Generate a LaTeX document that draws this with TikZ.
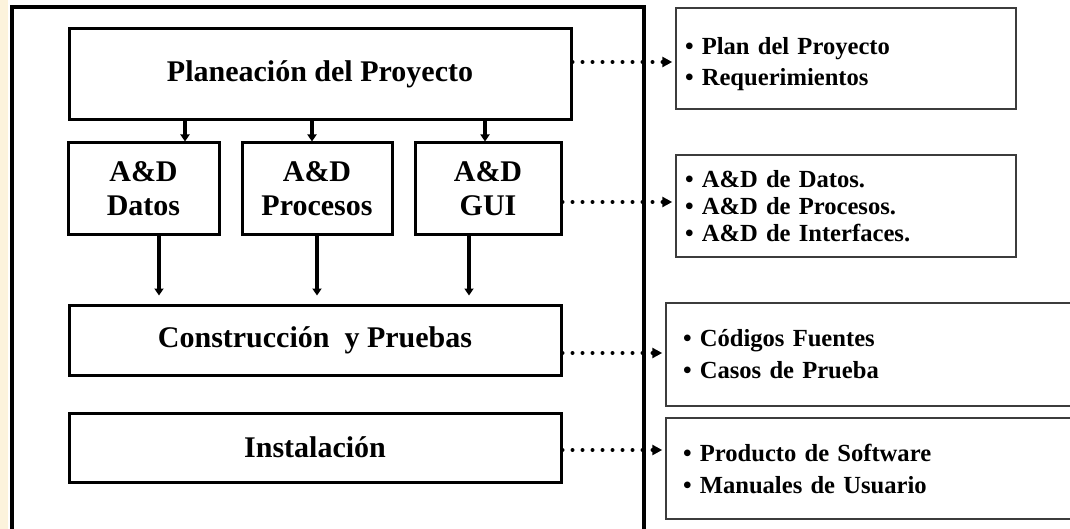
\documentclass[tikz,border=0pt]{standalone}
\usepackage{fontspec}
\setmainfont{Liberation Serif}
\usepackage{tikz}
\usetikzlibrary{arrows.meta}
\usetikzlibrary{calc}

\definecolor{crema}{HTML}{FCF3DC}
\definecolor{borde}{HTML}{3C3C3C}

\begin{document}
\begin{tikzpicture}[x=1pt, y=-1pt,
    fase/.style={draw, line width=3pt, align=center, inner sep=0pt,
        font=\bfseries\fontsize{30}{34}\selectfont},
    producto/.style={draw=borde, line width=1.5pt, align=left, inner ysep=0pt,
        font=\bfseries\fontsize{24.6}{31}\selectfont},
    flecha/.style={line width=3.5pt, -{Triangle[length=7pt,width=9pt]}},
    punteada/.style={line width=4pt, line cap=round, dash pattern=on 0pt off 10pt,
        -{Triangle[length=10pt,width=10pt]}, shorten >=3pt}]
    \useasboundingbox (0,0) rectangle (1070,529);
    \fill[crema] (0,0) rectangle (8,529);
    % marco de la metodologia
    \draw[line width=3.5pt] (12,535) -- (12,7) -- (644,7) -- (644,535);
    % fases
    \node[fase, minimum width=502pt, minimum height=91pt] (plan) at (320,74.5) {Planeación del Proyecto};
    \node[fase, minimum width=151pt, minimum height=92pt] (datos) at (143.5,189) {A\&D\\Datos};
    \node[fase, minimum width=150pt, minimum height=92pt] (procesos) at (317,189) {A\&D\\Procesos};
    \node[fase, minimum width=146pt, minimum height=92pt] (gui) at (488,189) {A\&D\\GUI};
    \node[fase, minimum width=492pt, minimum height=70pt] (constr) at (315,340) {Construcción\ \ y Pruebas};
    \node[fase, minimum width=492pt, minimum height=69pt] (inst) at (315,447.5) {Instalación};
    % productos
    \node[producto, text width=322pt, inner xsep=9pt, minimum height=101pt, text depth=26pt] (prod1) at (846,58.5)
        {•\ Plan del Proyecto\\•\ Requerimientos};
    \node[producto, text width=322pt, inner xsep=9pt, minimum height=102pt,
        font=\bfseries\fontsize{24.6}{27}\selectfont] (prod2) at (846,206)
        {•\ A\&D de Datos.\\•\ A\&D de Procesos.\\•\ A\&D de Interfaces.};
    \node[producto, text width=385pt, inner xsep=17pt, minimum height=103pt,
        font=\bfseries\fontsize{24.6}{32}\selectfont] (prod3) at (875.5,354.5)
        {•\ Códigos Fuentes\\•\ Casos de Prueba};
    \node[producto, text width=385pt, inner xsep=17pt, minimum height=101pt,
        font=\bfseries\fontsize{24.6}{32}\selectfont] (prod4) at (875.5,468.5)
        {•\ Producto de Software\\•\ Manuales de Usuario};
    % flechas entre fases
    \draw[flecha] ([xshift=41.5pt]datos.north |- plan.south) -- ([xshift=41.5pt]datos.north);
    \draw[flecha] ([xshift=-5pt]procesos.north |- plan.south) -- ([xshift=-5pt]procesos.north);
    \draw[flecha] ([xshift=-3pt]gui.north |- plan.south) -- ([xshift=-3pt]gui.north);
    \draw[flecha, shorten >=8pt] ([xshift=15.5pt]datos.south) -- ([xshift=15.5pt]datos.south |- constr.north);
    \draw[flecha, shorten >=8pt] (procesos.south) -- (procesos.south |- constr.north);
    \draw[flecha, shorten >=8pt] ([xshift=-19pt]gui.south) -- ([xshift=-19pt]gui.south |- constr.north);
    % flechas a productos
    \draw[punteada] ([yshift=-3.5pt]plan.east |- prod1.west) -- ([yshift=-3.5pt]prod1.west);
    \draw[punteada] ([yshift=4pt]gui.east |- prod2.west) -- ([yshift=4pt]prod2.west);
    \draw[punteada] ([yshift=1.5pt]constr.east |- prod3.west) -- ([yshift=1.5pt]prod3.west);
    \draw[punteada] ([yshift=18.5pt]inst.east |- prod4.west) -- ([yshift=18.5pt]prod4.west);
\end{tikzpicture}
\end{document}
